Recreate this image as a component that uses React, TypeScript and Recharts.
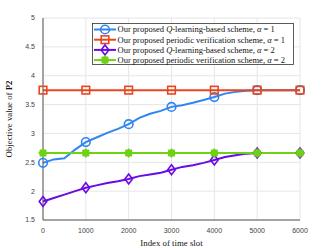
import { LineChart, Line, XAxis, YAxis, CartesianGrid, Label } from 'recharts'

const slots = [0, 250, 500, 750, 1000, 1250, 1500, 1750, 2000, 2250, 2500, 2750, 3000, 3250, 3500, 3750, 4000, 4250, 4500, 4750, 5000, 5250, 5500, 5750, 6000]
const qAlpha1 = [2.49, 2.55, 2.57, 2.72, 2.85, 2.93, 3.01, 3.08, 3.16, 3.27, 3.34, 3.39, 3.46, 3.49, 3.53, 3.58, 3.63, 3.69, 3.72, 3.74, 3.75, 3.75, 3.75, 3.75, 3.75]
const periodicAlpha1 = [3.75, 3.75, 3.75, 3.75, 3.75, 3.75, 3.75, 3.75, 3.75, 3.75, 3.75, 3.75, 3.75, 3.75, 3.75, 3.75, 3.75, 3.75, 3.75, 3.75, 3.75, 3.75, 3.75, 3.75, 3.75]
const qAlpha2 = [1.82, 1.88, 1.94, 2.0, 2.06, 2.1, 2.14, 2.17, 2.21, 2.26, 2.29, 2.32, 2.37, 2.42, 2.45, 2.49, 2.54, 2.59, 2.62, 2.65, 2.66, 2.66, 2.66, 2.66, 2.66]
const periodicAlpha2 = [2.66, 2.66, 2.66, 2.66, 2.66, 2.66, 2.66, 2.66, 2.66, 2.66, 2.66, 2.66, 2.66, 2.66, 2.66, 2.66, 2.66, 2.66, 2.66, 2.66, 2.66, 2.66, 2.66, 2.66, 2.66]
const xTicks = [0, 1000, 2000, 3000, 4000, 5000, 6000]
const yTicks = [1.5, 2, 2.5, 3, 3.5, 4, 4.5, 5]

const data = slots.map((t, i) => ({ t, q1: qAlpha1[i], p1: periodicAlpha1[i], q2: qAlpha2[i], p2: periodicAlpha2[i] }))

const BLUE = '#2f86f2'
const RED = '#e8461e'
const PURPLE = '#6a0ae6'
const GREEN = '#6ed214'

type Shape = 'circle' | 'square' | 'diamond' | 'star'

function Marker({ cx, cy, shape, color }: { cx: number; cy: number; shape: Shape; color: string }) {
  if (shape === 'circle') return <circle cx={cx} cy={cy} r={4.3} fill="none" stroke={color} strokeWidth={1.6} />
  if (shape === 'square') return <rect x={cx - 3.8} y={cy - 3.8} width={7.6} height={7.6} fill="none" stroke={color} strokeWidth={1.6} />
  if (shape === 'diamond') return <path d={`M${cx},${cy - 5}L${cx + 3.8},${cy}L${cx},${cy + 5}L${cx - 3.8},${cy}Z`} fill="none" stroke={color} strokeWidth={1.6} />
  return (
    <g stroke={color} strokeWidth={1.6}>
      <circle cx={cx} cy={cy} r={3} fill={color} />
      <line x1={cx - 4.5} y1={cy} x2={cx + 4.5} y2={cy} />
      <line x1={cx} y1={cy - 4.5} x2={cx} y2={cy + 4.5} />
      <line x1={cx - 3.2} y1={cy - 3.2} x2={cx + 3.2} y2={cy + 3.2} />
      <line x1={cx - 3.2} y1={cy + 3.2} x2={cx + 3.2} y2={cy - 3.2} />
    </g>
  )
}

// markers only every 1000 slots, like the MATLAB plot
const dotFor = (shape: Shape, color: string) => (props: any) => {
  const { cx, cy, payload, index } = props
  if (payload.t % 1000 !== 0) return <g key={index} />
  return <Marker key={index} cx={cx} cy={cy} shape={shape} color={color} />
}

const series = [
  { key: 'q1', color: BLUE, shape: 'circle' as Shape, label: <>Our proposed <tspan fontStyle="italic">Q</tspan>-learning-based scheme, <tspan fontStyle="italic">α</tspan> = 1</> },
  { key: 'p1', color: RED, shape: 'square' as Shape, label: <>Our proposed periodic verification scheme, <tspan fontStyle="italic">α</tspan> = 1</> },
  { key: 'q2', color: PURPLE, shape: 'diamond' as Shape, label: <>Our proposed <tspan fontStyle="italic">Q</tspan>-learning-based scheme, <tspan fontStyle="italic">α</tspan> = 2</> },
  { key: 'p2', color: GREEN, shape: 'star' as Shape, label: <>Our proposed periodic verification scheme, <tspan fontStyle="italic">α</tspan> = 2</> },
]

function LegendBox() {
  return (
    <svg width={202} height={42} style={{ display: 'block' }}>
      <rect x={0.5} y={0.5} width={201} height={41} fill="#fff" stroke="#333" strokeWidth={0.8} />
      {series.map((s, i) => {
        const y = 6.5 + i * 10.2
        return (
          <g key={s.key}>
            <line x1={2} y1={y} x2={24} y2={y} stroke={s.color} strokeWidth={2} />
            <Marker cx={13} cy={y} shape={s.shape} color={s.color} />
            <text x={25.5} y={y + 2.9} fontSize={8.5} fontFamily="'Liberation Serif', serif" fill="#111">{s.label}</text>
          </g>
        )
      })}
    </svg>
  )
}

const tickStyle = { fontSize: 7, fill: '#444', fontFamily: "'Liberation Sans', Arial, sans-serif" }

export default function App() {
  return (
    <div style={{ position: 'absolute', left: 0, top: 0, width: 331, height: 248, background: '#fff' }}>
      <LineChart width={331} height={248} data={data} margin={{ top: 18, right: 31, bottom: 8, left: 13 }}>
        <CartesianGrid stroke="#e6e6e6" />
        <XAxis dataKey="t" type="number" domain={[0, 6000]} ticks={xTicks} tick={tickStyle} tickLine={false} stroke="#555" height={20} interval={0}>
          <Label value="Index of time slot" position="insideBottom" offset={-6} style={{ fontSize: 8.8, fill: '#111', fontFamily: "'Liberation Serif', serif" }} />
        </XAxis>
        <XAxis xAxisId="top" orientation="top" type="number" domain={[0, 6000]} ticks={xTicks} tick={false} tickLine={false} stroke="#555" height={0} />
        <YAxis type="number" domain={[1.5, 5]} ticks={yTicks} tick={tickStyle} tickLine={false} stroke="#555" width={30} interval={0}
          label={(p: any) => {
            const vb = p.viewBox
            const cy = vb.y + vb.height / 2
            return (
              <text x={12} y={cy} transform={`rotate(-90, 12, ${cy})`} textAnchor="middle" fontSize={8.8} fill="#111" fontFamily="'Liberation Serif', serif">
                Objective value of <tspan fontWeight="bold">P2</tspan>
              </text>
            )
          }} />
        <YAxis yAxisId="right" orientation="right" type="number" domain={[1.5, 5]} ticks={yTicks} tick={false} tickLine={false} stroke="#555" width={0} />
        {series.map(s => (
          <Line key={s.key} dataKey={s.key} type="linear" stroke={s.color} strokeWidth={2} dot={dotFor(s.shape, s.color)} activeDot={false} isAnimationActive={false} />
        ))}
      </LineChart>
      <div style={{ position: 'absolute', left: 92, top: 23 }}>
        <LegendBox />
      </div>
    </div>
  )
}
